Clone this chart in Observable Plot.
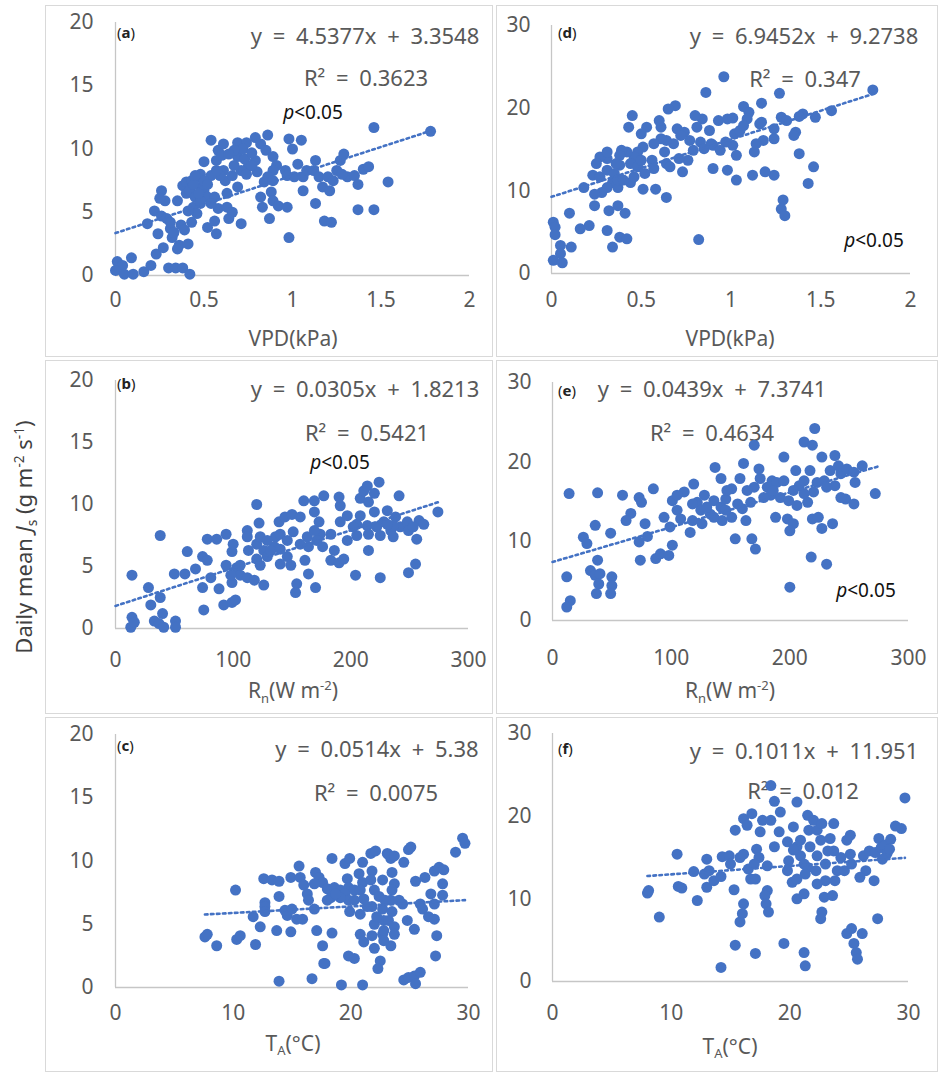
<!DOCTYPE html>
<html><head><meta charset="utf-8">
<script src="https://cdn.jsdelivr.net/npm/d3@7"></script>
<script src="https://cdn.jsdelivr.net/npm/@observablehq/plot@0.6"></script>
<style>
body{margin:0;background:#fff;}
#root{position:relative;width:942px;height:1080px;font-family:"Noto Sans",sans-serif;overflow:hidden;background:#fff;}
.frame{position:absolute;border:1px solid #d9d9d9;box-sizing:border-box;}
.t{position:absolute;white-space:nowrap;transform:translate(-50%,-50%);line-height:1;}
.eq{color:#595959;font-size:22px;word-spacing:5px;}
.pv{color:#111;font-size:19px;}
.lab{position:absolute;white-space:nowrap;transform:translateY(-50%);font-size:15px;color:#222;line-height:1;}
.ax{color:#595959;font-size:21px;}
.sub{font-size:0.62em;vertical-align:-0.35em;}
.sup{font-size:0.62em;vertical-align:0.6em;}
.plot{position:absolute;}
.ylab{position:absolute;white-space:nowrap;color:#404040;font-size:22px;line-height:1;transform:translate(-50%,-50%) rotate(-90deg);}
</style></head><body><div id="root"></div>
<script>
// ---------- data ----------
const panelA = [[0.01,1.1],[0.04,0.8],[0.00,0.4],[0.05,0.1],[0.10,0.1],[0.09,1.4],[0.16,0.3],[0.20,0.8],[0.30,0.6],[0.34,0.6],[0.38,0.6],[0.42,0.1],[0.18,4.1],[0.24,3.3],[0.23,1.7],[0.27,2.2],[0.31,3.7],[0.32,3.0],[0.37,4.0],[0.36,2.4],[0.41,2.5],[0.35,2.1],[0.22,5.1],[0.26,4.7],[0.29,4.5],[0.26,6.7],[0.28,5.9],[0.35,5.9],[0.38,7.1],[0.40,7.4],[0.43,7.5],[0.46,7.8],[0.40,6.5],[0.42,6.7],[0.45,6.2],[0.48,7.0],[0.44,5.4],[0.48,5.7],[0.50,6.7],[0.52,6.2],[0.56,6.2],[0.43,4.2],[0.52,3.8],[0.57,3.3],[0.56,4.3],[0.58,5.3],[0.63,5.4],[0.64,4.5],[0.66,5.0],[0.71,4.1],[0.63,6.5],[0.69,7.0],[0.50,9.0],[0.54,10.7],[0.58,9.9],[0.61,10.4],[0.57,9.1],[0.61,8.3],[0.62,7.5],[0.66,7.9],[0.69,9.4],[0.69,10.5],[0.74,10.5],[0.79,10.9],[0.86,11.1],[0.82,10.4],[0.85,9.9],[0.89,9.4],[0.91,8.7],[0.89,8.3],[0.96,8.3],[0.75,8.6],[0.73,9.2],[0.79,9.1],[0.80,8.2],[0.86,7.8],[0.84,7.4],[0.89,7.5],[0.97,7.9],[1.01,7.8],[1.05,10.7],[0.98,10.8],[1.00,10.0],[1.03,8.8],[1.06,7.8],[1.08,8.3],[1.13,9.1],[1.12,8.3],[1.15,7.8],[1.06,6.7],[1.17,7.0],[1.20,7.8],[1.23,7.5],[1.25,8.3],[1.27,9.1],[1.29,9.6],[1.31,7.8],[1.35,7.9],[1.37,7.2],[1.40,8.4],[1.43,8.6],[1.46,11.7],[1.54,7.4],[1.78,11.4],[0.82,6.2],[0.83,5.4],[0.88,6.6],[0.89,5.9],[0.92,5.5],[0.97,5.4],[0.87,4.5],[0.98,3.0],[1.13,5.7],[1.18,4.3],[1.22,4.2],[1.37,5.2],[1.46,5.2],[1.28,8.0],[1.21,6.7],[0.48,5.9],[0.46,4.9],[0.41,5.1],[0.54,5.7],[0.59,7.9],[0.54,7.9],[0.48,8.0],[0.71,8.3],[0.72,10.0],[0.77,9.7],[0.67,9.9],[0.74,8.0],[0.57,8.3],[0.31,4.2],[0.33,3.4],[0.39,3.6],[0.25,6.1],[0.67,8.7],[0.77,8.7],[0.44,7.2],[0.47,6.5],[0.50,7.5],[0.45,7.9],[0.52,7.2],[0.60,9.5],[0.64,9.6]];
const panelB = [[14,4.3],[14,0.9],[13,0.1],[16,0.5],[28,3.3],[30,1.9],[38,2.5],[40,1.2],[33,0.6],[37,0.4],[41,0.1],[51,0.6],[51,0.1],[38,7.5],[50,4.4],[59,4.4],[68,4.8],[61,6.2],[74,5.8],[78,5.5],[81,4.1],[74,3.3],[75,1.5],[88,3.2],[92,1.9],[99,2.1],[102,2.3],[78,7.2],[86,7.2],[94,7.6],[94,5.1],[99,6.2],[100,6.8],[103,4.9],[99,3.7],[106,4.3],[112,7.9],[120,10.0],[122,8.5],[113,6.3],[120,6.8],[112,4.1],[118,3.9],[126,3.5],[120,5.6],[126,6.3],[123,5.1],[129,5.8],[135,6.6],[136,7.4],[140,7.6],[139,8.6],[144,9.0],[150,9.2],[157,9.0],[140,5.2],[146,5.8],[149,5.1],[154,3.6],[153,2.9],[146,7.1],[151,7.8],[160,10.3],[169,10.3],[177,10.7],[169,9.4],[163,7.4],[164,6.6],[161,5.5],[164,4.4],[170,3.3],[173,8.6],[174,7.6],[171,7.1],[176,6.6],[183,7.6],[186,6.3],[183,5.5],[190,5.3],[194,5.6],[191,8.6],[191,9.9],[190,10.6],[197,9.1],[197,7.1],[204,4.3],[205,7.5],[205,8.4],[208,9.1],[208,10.5],[211,11.1],[214,11.5],[224,11.8],[220,10.9],[215,10.2],[220,9.4],[214,8.3],[215,7.6],[215,6.3],[225,4.1],[222,8.2],[231,9.5],[228,8.6],[234,7.9],[241,10.7],[238,9.0],[242,8.2],[236,7.4],[248,8.6],[249,7.9],[255,5.2],[249,4.5],[258,8.7],[262,8.4],[256,7.2],[274,9.4],[112,7.4],[123,7.4],[129,7.1],[132,6.3],[140,6.4],[157,6.8],[169,7.9],[202,8.2],[225,7.5],[236,8.3],[231,8.4],[253,8.2],[106,5.1],[98,4.3]];
const panelC = [[7.6,4.0],[7.8,4.2],[8.6,3.3],[10.2,7.7],[10.3,3.8],[10.6,4.1],[11.7,5.6],[11.9,3.4],[12.3,4.8],[12.6,8.6],[13.3,8.5],[13.9,8.4],[12.7,6.7],[12.7,6.4],[12.7,6.0],[13.7,4.5],[13.9,7.2],[13.9,0.5],[14.6,5.7],[14.4,6.1],[14.9,4.4],[15.0,6.2],[15.4,5.4],[15.9,5.4],[14.9,8.7],[15.6,9.6],[15.7,8.7],[16.0,8.1],[16.3,7.4],[16.4,6.9],[16.9,6.2],[17.0,9.1],[17.3,8.7],[17.6,8.3],[18.0,7.8],[18.3,7.1],[18.0,6.9],[17.1,4.5],[17.6,3.3],[17.7,1.9],[17.8,1.9],[16.7,0.7],[18.4,4.3],[18.4,10.2],[18.6,7.9],[19.1,7.7],[19.5,9.8],[19.9,10.2],[19.7,8.6],[19.8,7.9],[19.5,7.4],[20.3,7.7],[19.8,6.9],[19.9,6.0],[19.8,2.5],[20.3,2.3],[19.2,0.2],[21.0,9.9],[20.7,9.0],[21.0,8.3],[20.8,7.7],[21.1,7.0],[20.8,5.8],[20.8,4.2],[21.1,3.6],[21.0,0.2],[21.7,10.6],[22.1,10.8],[21.8,9.2],[21.7,8.5],[22.0,7.7],[21.8,6.4],[22.0,5.0],[21.8,4.1],[22.0,3.1],[22.5,2.1],[22.3,1.5],[22.7,8.5],[22.7,6.2],[22.8,5.3],[22.7,4.2],[23.1,10.6],[23.4,10.2],[23.2,10.5],[23.7,10.4],[23.5,9.1],[23.7,8.2],[23.5,7.7],[23.4,6.9],[23.5,6.0],[23.2,5.3],[23.7,4.8],[23.7,4.2],[23.4,3.3],[22.8,3.7],[24.1,6.9],[24.4,6.6],[24.5,9.9],[24.9,10.9],[25.1,11.1],[24.8,5.3],[25.4,4.6],[24.5,0.6],[24.9,0.8],[25.4,0.9],[25.5,0.3],[25.9,1.2],[25.5,8.4],[25.9,6.6],[26.1,6.2],[26.3,8.7],[26.6,5.6],[27.1,5.4],[26.8,7.4],[27.1,9.2],[27.1,6.6],[27.3,4.1],[27.2,2.5],[27.5,9.5],[27.9,9.3],[27.8,8.2],[27.8,7.3],[28.9,10.7],[29.5,11.8],[29.7,11.4],[19.1,7.1],[20.3,6.9],[21.4,6.4],[22.2,5.6],[22.8,4.5],[16.9,8.2],[18.7,7.4],[22.4,7.2],[22.9,6.9]];
const panelD = [[1.79,22.2],[1.56,19.7],[1.47,18.9],[1.40,19.3],[1.38,19.0],[1.27,21.8],[1.17,20.6],[1.07,20.2],[1.10,19.5],[1.09,18.7],[1.16,18.1],[1.17,18.3],[1.24,17.5],[1.28,18.9],[1.31,18.5],[1.36,17.1],[1.35,16.7],[1.24,16.3],[1.18,16.1],[1.14,15.7],[1.13,14.7],[1.38,14.5],[1.46,12.9],[1.43,10.9],[1.29,8.9],[1.28,7.8],[1.30,7.0],[1.24,11.9],[1.19,12.3],[1.12,11.9],[1.03,11.3],[0.98,12.5],[0.90,12.7],[0.82,4.1],[1.03,14.3],[1.01,15.5],[0.97,15.9],[1.02,16.9],[1.05,17.3],[0.98,18.7],[0.93,18.5],[1.01,18.8],[0.88,17.3],[0.84,18.7],[0.80,19.1],[0.81,17.7],[0.86,21.9],[0.69,20.3],[0.65,19.9],[0.45,19.1],[0.43,17.7],[0.53,17.7],[0.61,17.7],[0.70,17.5],[0.74,17.1],[0.77,16.1],[0.83,15.9],[0.90,15.5],[0.94,14.9],[0.79,14.9],[0.85,15.1],[0.76,13.7],[0.71,13.9],[0.73,12.3],[0.64,13.3],[0.66,12.9],[0.68,15.7],[0.64,16.1],[0.61,16.3],[0.57,15.7],[0.63,14.7],[0.56,13.7],[0.57,12.7],[0.52,12.1],[0.51,10.2],[0.58,10.2],[0.64,9.2],[0.50,16.9],[0.51,15.3],[0.48,14.7],[0.46,14.1],[0.42,14.7],[0.39,14.9],[0.38,14.3],[0.44,13.3],[0.48,12.9],[0.44,11.0],[0.46,11.7],[0.38,13.1],[0.36,13.3],[0.31,13.9],[0.27,14.1],[0.25,13.3],[0.23,11.9],[0.27,11.7],[0.31,12.5],[0.35,12.1],[0.34,11.0],[0.37,10.4],[0.31,10.4],[0.28,9.8],[0.24,9.6],[0.18,10.4],[0.24,8.2],[0.32,7.6],[0.37,8.2],[0.41,7.3],[0.10,7.3],[0.21,5.8],[0.16,5.4],[0.31,5.2],[0.38,4.4],[0.42,4.2],[0.34,3.2],[0.01,6.2],[0.02,5.6],[0.02,4.7],[0.05,3.4],[0.11,3.2],[0.05,2.4],[0.01,1.6],[0.06,1.3],[0.31,14.7],[0.37,11.3],[0.40,11.3],[0.50,13.7],[0.60,18.5],[0.72,16.7],[0.89,15.7],[1.07,17.9],[0.96,23.8]];
const panelE = [[14,16.0],[38,16.1],[59,15.8],[73,15.5],[75,14.9],[85,16.6],[66,13.5],[62,12.6],[36,12.0],[49,11.0],[26,10.5],[29,9.7],[12,5.5],[15,2.5],[12,1.7],[38,7.6],[32,6.3],[36,5.7],[40,5.9],[39,4.6],[37,3.4],[50,5.5],[50,4.4],[49,3.4],[78,12.2],[80,10.6],[73,9.9],[74,7.6],[87,7.8],[91,8.4],[98,8.2],[101,9.5],[99,11.8],[94,13.0],[101,15.1],[105,13.9],[111,16.2],[105,15.8],[108,12.8],[116,11.1],[118,12.6],[119,17.2],[122,14.9],[128,15.8],[125,13.9],[126,12.2],[133,13.4],[136,15.1],[137,19.3],[142,17.9],[142,14.3],[146,15.3],[143,12.6],[151,13.0],[151,16.6],[156,14.7],[158,17.9],[160,14.1],[163,12.6],[161,19.8],[154,10.3],[168,10.3],[171,9.0],[167,14.9],[170,16.8],[174,19.1],[170,22.1],[175,17.9],[181,16.8],[184,15.8],[185,17.6],[189,17.4],[192,15.5],[188,13.0],[198,12.8],[203,12.2],[200,11.3],[195,20.6],[205,18.9],[199,15.1],[208,17.0],[206,14.5],[212,17.6],[215,14.9],[212,22.5],[219,22.1],[221,24.2],[217,18.9],[223,17.4],[220,16.2],[219,12.8],[224,13.0],[227,11.6],[236,12.2],[227,20.6],[229,17.6],[234,18.9],[238,20.8],[241,19.5],[243,18.5],[238,17.0],[248,19.1],[254,18.7],[261,19.5],[255,17.4],[247,15.3],[254,14.7],[272,16.0],[218,8.0],[231,7.1],[200,4.2],[118,14.7],[130,14.3],[147,16.4],[164,16.4],[178,15.5],[186,16.4],[203,16.4],[212,16.0],[231,16.8],[243,15.5],[136,13.0],[195,17.6],[146,13.9]];
const panelF = [[8.0,10.7],[8.1,11.0],[9.0,7.8],[10.5,15.4],[10.6,11.5],[10.9,11.3],[12.2,9.8],[11.9,13.3],[12.8,13.0],[13.0,14.8],[13.2,13.4],[13.0,11.4],[13.6,12.2],[14.2,12.7],[14.2,1.7],[14.3,15.1],[14.9,15.2],[15.0,14.2],[15.3,11.1],[15.4,4.4],[15.8,7.2],[16.0,8.2],[16.1,9.4],[15.4,18.3],[16.1,19.7],[16.8,20.3],[16.4,18.9],[15.8,15.0],[16.1,15.4],[16.5,13.6],[16.7,12.4],[17.1,12.4],[17.1,3.4],[17.2,16.0],[17.4,15.0],[17.7,19.5],[17.5,18.1],[18.4,23.7],[18.7,21.8],[19.2,20.5],[18.4,19.5],[18.1,14.0],[18.1,11.0],[17.9,10.4],[18.0,9.4],[18.2,8.4],[18.7,16.3],[19.1,18.1],[19.5,4.6],[19.9,14.6],[20.2,12.0],[19.8,16.9],[20.3,18.7],[20.6,21.7],[20.6,10.0],[21.2,10.6],[21.2,3.5],[21.3,1.9],[20.6,16.3],[20.9,15.2],[20.9,17.1],[21.5,20.1],[21.6,18.3],[21.7,16.3],[21.5,13.8],[21.3,13.0],[22.0,19.5],[22.3,18.3],[22.3,15.2],[22.2,13.4],[22.6,17.1],[22.7,19.1],[23.0,14.2],[23.0,12.2],[22.9,10.2],[22.7,8.4],[22.6,7.6],[23.6,10.4],[23.7,19.1],[23.4,17.3],[23.7,15.8],[24.0,13.4],[23.8,12.2],[25.1,17.7],[24.8,17.1],[25.1,15.4],[24.6,13.4],[25.2,14.2],[26.2,15.2],[26.7,15.8],[26.4,13.4],[27.1,12.2],[25.9,12.6],[24.8,5.8],[25.2,6.4],[26.1,5.8],[25.4,4.6],[25.6,3.5],[25.7,2.7],[27.4,7.6],[27.5,17.3],[27.2,15.6],[20.3,15.9],[21.2,14.2],[23.2,15.8],[24.3,15.0],[19.8,13.4],[20.6,12.4],[22.3,11.8],[17.0,14.2],[27.7,16.2],[28.0,16.5],[28.5,17.2],[28.9,18.8],[29.7,22.2],[29.4,18.5],[28.2,15.5],[27.8,14.8],[28.4,16.0]];

const panelIds = ["a","b","c","d","e","f"];
const panelData = [panelA, panelB, panelC, panelD, panelE, panelF];
const eqSlope = [4.5377, 0.0305, 0.0514, 6.9452, 0.0439, 0.1011];
const eqIntercept = [3.3548, 1.8213, 5.38, 9.2738, 7.3741, 11.951];
const eqText = ["y = 4.5377x + 3.3548","y = 0.0305x + 1.8213","y = 0.0514x + 5.38","y = 6.9452x + 9.2738","y = 0.0439x + 7.3741","y = 0.1011x + 11.951"];
const r2Text = ["R² = 0.3623","R² = 0.5421","R² = 0.0075","R² = 0.347","R² = 0.4634","R² = 0.012"];
const pText = ["<0.05","<0.05",null,"<0.05","<0.05",null];
const trendRange = [[0,1.78],[0,274],[7.6,29.7],[0,1.79],[0,275],[8.0,29.7]];
const vpdTicks = [0,0.5,1,1.5,2];
const rnTicks = [0,100,200,300];
const taTicks = [0,10,20,30];
const js20Ticks = [0,5,10,15,20];
const js30Ticks = [0,10,20,30];
const xTickSets = [vpdTicks, rnTicks, taTicks, vpdTicks, rnTicks, taTicks];
const yTickSets = [js20Ticks, js20Ticks, js20Ticks, js30Ticks, js30Ticks, js30Ticks];
const xTitles = ['VPD(kPa)', 'R<span class="sub">n</span>(W m<span class="sup">-2</span>)', 'T<span class="sub">A</span>(°C)',
                 'VPD(kPa)', 'R<span class="sub">n</span>(W m<span class="sup">-2</span>)', 'T<span class="sub">A</span>(°C)'];
const yTitle = 'Daily mean <i>J</i><span class="sub">s</span> (g m<span class="sup">-2</span> s<span class="sup">-1</span>)';

// ---------- layout ----------
const layout = [
  {left:45, top:5,   w:448, h:352, ml:70, mr:24, mt:17, mb:82, xpad:17, ypad:22, lab:[117,32], eq:[365,35], r2:[366,77], p:[313,112], xt:[293,338]},
  {left:45, top:360, w:448, h:354, ml:70, mr:25, mt:20, mb:86, xpad:24, ypad:22, lab:[117,383], eq:[365,388], r2:[367,432], p:[340,462], xt:[293,692]},
  {left:45, top:717, w:448, h:355, ml:70, mr:25, mt:17, mb:85, xpad:18, ypad:22, lab:[117,745], eq:[377,748], r2:[376,792], p:null, xt:[293,1045]},
  {left:496, top:5,   w:442, h:352, ml:55, mr:28, mt:20, mb:84, xpad:19, ypad:21, lab:[558,32], eq:[804,35], r2:[805,78], p:[874,240], xt:[730,338]},
  {left:496, top:360, w:442, h:354, ml:56, mr:30, mt:22, mb:94, xpad:30, ypad:21, lab:[558,390], eq:[712,388], r2:[712,432], p:[866,590], xt:[730,692]},
  {left:496, top:717, w:442, h:355, ml:56, mr:30, mt:16, mb:91, xpad:24, ypad:21, lab:[558,748], eq:[804,750], r2:[803,790], p:null, xt:[730,1048]}
];

const root = document.getElementById("root");
function addDiv(cls, html, x, y, extra) {
  const d = document.createElement("div");
  d.className = cls; d.innerHTML = html;
  d.style.left = x + "px"; d.style.top = y + "px";
  if (extra) Object.assign(d.style, extra);
  root.appendChild(d);
  return d;
}

panelIds.forEach((id, i) => {
  const L = layout[i];
  addDiv("frame", "", L.left, L.top, {width: L.w + "px", height: L.h + "px"});
  // annotations (drawn under the dots)
  addDiv("lab", "(<b>" + id + "</b>)", L.lab[0], L.lab[1]);
  addDiv("t eq", eqText[i], L.eq[0], L.eq[1]);
  addDiv("t eq", r2Text[i], L.r2[0], L.r2[1]);
  if (pText[i]) addDiv("t pv", "<i>p</i>" + pText[i].replace("<", "&lt;"), L.p[0], L.p[1]);
  addDiv("t ax", xTitles[i], L.xt[0], L.xt[1]);

  const xT = xTickSets[i], yT = yTickSets[i];
  const trend = trendRange[i].map(x => ({x, y: eqSlope[i] * x + eqIntercept[i]}));
  const svg = Plot.plot({
    width: L.w, height: L.h,
    marginLeft: L.ml, marginRight: L.mr, marginTop: L.mt, marginBottom: L.mb,
    style: {background: "transparent", fontFamily: '"Noto Sans", sans-serif', fontSize: "21px", color: "#595959", overflow: "visible"},
    x: {domain: [xT[0], xT[xT.length - 1]], ticks: xT, tickSize: 0, tickPadding: L.xpad, tickFormat: d => `${d}`, label: null},
    y: {domain: [yT[0], yT[yT.length - 1]], ticks: yT, tickSize: 0, tickPadding: L.ypad, tickFormat: d => `${d}`, label: null},
    marks: [
      Plot.ruleX([xT[0]], {stroke: "#c6c6c6", strokeWidth: 1.3}),
      Plot.ruleY([yT[0]], {stroke: "#c6c6c6", strokeWidth: 1.3}),
      Plot.dot(panelData[i], {x: d => d[0], y: d => d[1], r: 5.5, fill: "#4472C4", stroke: "none"}),
      Plot.line(trend, {x: "x", y: "y", stroke: "#4472C4", strokeWidth: 2.6, strokeDasharray: "2.6,3.4"})
    ]
  });
  svg.classList.add("plot");
  svg.style.left = L.left + "px";
  svg.style.top = L.top + "px";
  root.appendChild(svg);
});

addDiv("ylab", yTitle, 25, 537);
</script></body></html>
